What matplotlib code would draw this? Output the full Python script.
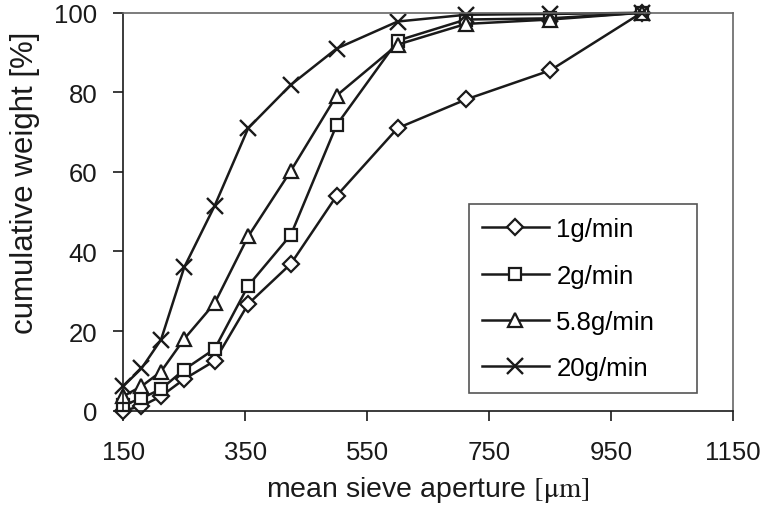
import matplotlib
matplotlib.use("Agg")
import matplotlib.pyplot as plt

plt.rcParams['font.family'] = ['Liberation Sans', 'DejaVu Sans']
plt.rcParams['mathtext.fontset'] = 'stix'

aperture = [150, 180, 212, 250, 300, 355, 425, 500, 600, 712, 850, 1000]
s_1g = [0, 1.1, 3.6, 7.9, 12.5, 26.8, 36.9, 54.0, 71.0, 78.2, 85.5, 100]
s_2g = [1.3, 3.1, 5.4, 10.3, 15.5, 31.4, 44.2, 71.8, 93.0, 98.3, 98.6, 100]
s_5g8 = [3.6, 6.1, 9.8, 18.0, 27.0, 43.8, 60.3, 79.2, 92.0, 97.2, 98.3, 100]
s_20g = [6.1, 10.6, 17.8, 36.0, 51.5, 71.0, 81.9, 91.0, 97.8, 99.5, 99.7, 100]
labels = ["1g/min", "2g/min", "5.8g/min", "20g/min"]
xticks = [150, 350, 550, 750, 950, 1150]
yticks = [0, 20, 40, 60, 80, 100]

fig = plt.figure(figsize=(7.7, 5.1), dpi=100)
ax = fig.add_axes([0.16, 0.193, 0.792, 0.78])

ink = '#1a1a1a'
styles = [
    dict(marker='D', ms=8.5, mfc='white', mec=ink, mew=1.6),
    dict(marker='s', ms=8.5, mfc='white', mec=ink, mew=1.6),
    dict(marker='^', ms=9.5, mfc='white', mec=ink, mew=1.6),
    dict(marker='x', ms=12, mfc='white', mec=ink, mew=1.7),
]
for ys, lab, st in zip([s_1g, s_2g, s_5g8, s_20g], labels, styles):
    ax.plot(aperture, ys, color=ink, lw=1.8, label=lab, clip_on=False, **st)

ax.set_xlim(150, 1150)
ax.set_ylim(0, 100)
ax.set_xticks(xticks)
ax.set_yticks(yticks)
ax.tick_params(direction='out', length=7.5, width=1.2, labelsize=18.5, colors=ink)
ax.tick_params(axis='x', pad=14)
ax.tick_params(axis='y', pad=11)
for side in ['left', 'bottom']:
    ax.spines[side].set_color(ink)
    ax.spines[side].set_linewidth(1.2)
for side in ['top', 'right']:
    ax.spines[side].set_color('#666666')
    ax.spines[side].set_linewidth(1.2)

ax.set_xlabel(r"mean sieve aperture $[\mathrm{\mu m}]$", fontsize=20.5, color=ink, labelpad=7)
ax.set_ylabel("cumulative weight [%]", fontsize=22.5, color=ink)
ax.yaxis.set_label_coords(-0.137, 0.575)

leg = ax.legend(loc='lower left', bbox_to_anchor=(0.567, 0.044, 0.374, 0.486), mode='expand',
                fontsize=18.5, frameon=True,
                fancybox=False, framealpha=1, edgecolor='#555555', handlelength=2.6,
                labelspacing=0.87, borderpad=0.5, handletextpad=0.3, borderaxespad=0)
leg.get_frame().set_linewidth(1.2)

fig.savefig("out.png", dpi=100)
